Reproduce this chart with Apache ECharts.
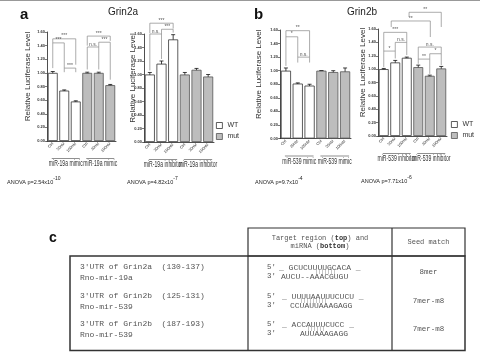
<!DOCTYPE html>
<html>
<head>
<meta charset="utf-8">
<script src="https://cdn.jsdelivr.net/npm/echarts@6/dist/echarts.min.js"></script>
<style>
html,body{margin:0;padding:0;background:#fff}
#main{width:480px;height:352px}
</style>
</head>
<body>
<div id="main"></div>
<script>
// categories on every small chart
var doseLabels = ['Ctrl', '20nM', '100nM', 'Ctrl', '20nM', '100nM'];
var yTicks = [0, 0.2, 0.4, 0.6, 0.8, 1.0, 1.2, 1.4, 1.6];

// a: Grin2a (WT = first three, mut = last three)
var a1Values = [1.00, 0.74, 0.58, 1.00, 1.00, 0.82];
var a1Errors = [0.02, 0.01, 0.01, 0.01, 0.01, 0.01];
var a2Values = [1.00, 1.16, 1.52, 1.00, 1.07, 0.97];
var a2Errors = [0.03, 0.04, 0.07, 0.03, 0.02, 0.03];
// b: Grin2b
var b1Values = [1.00, 0.81, 0.78, 1.00, 0.98, 0.99];
var b1Errors = [0.04, 0.01, 0.02, 0.00, 0.02, 0.05];
var b2Values = [1.00, 1.10, 1.17, 1.03, 0.90, 1.01];
var b2Errors = [0.01, 0.03, 0.01, 0.03, 0.01, 0.03];

// brackets: [from bar, to bar, level, left end, right end]
var a1Brackets = [[0,2,1.50,1.44,1.12],[0,1,1.44,1.07,1.07],[1,2,1.07,1.01,1.01],
                  [3,5,1.54,1.40,1.47],[3,4,1.38,1.05,1.05],[4,5,1.45,1.38,0.90]];
var a1Marks = ['***','***','***','***','n.s.','***'];
var a2Brackets = [[0,2,1.76,1.61,1.68],[0,1,1.60,1.06,1.23],[1,2,1.67,1.60,1.62]];
var a2Marks = ['***','n.s.','***'];
var b1Brackets = [[0,2,1.59,1.50,1.20],[0,1,1.50,1.07,1.20],[1,2,1.20,1.12,1.12]];
var b1Marks = ['**','*','n.s.'];
var b2Brackets = [[0,1,1.27,1.03,1.16],[1,2,1.40,1.27,1.21],[0,2,1.55,1.27,1.40],
                  [3,4,1.15,1.08,0.93],[4,5,1.23,1.15,1.06],[3,5,1.33,1.15,1.23],
                  [0.65,4.05,1.72,1.63,1.48],[2.2,5.0,1.85,1.78,1.63]];
var b2Marks = ['*','n.s.','***','**','*','n.s.','**','**'];

var a1Groups = ['miR-19a mimic', 'miR-19a mimic'];
var a2Groups = ['miR-19a inhibitor', 'miR-19a inhibitor'];
var b1Groups = ['miR-539 mimic', 'miR-539 mimic'];
var b2Groups = ['miR-539 inhibitor', 'miR-539 inhibitor'];

var anovaTexts = [['ANOVA p=2.54x10', '-10'], ['ANOVA p=4.82x10', '-7'],
                  ['ANOVA p=9.7x10', '-4'], ['ANOVA p=7.71x10', '-6']];

// c: table
var tableHeader = ['Target region (top) and', 'miRNA (bottom)', 'Seed match'];
var tableUtr = ["3'UTR of Grin2a  (130-137)", "3'UTR of Grin2b  (125-131)", "3'UTR of Grin2b  (187-193)"];
var tableMir = ['Rno-mir-19a', 'Rno-mir-539', 'Rno-mir-539'];
var tableTarget = ['_ GCUCUUUUGCACA _', '_ UUUUAAUUUCUCU _', '_ ACCAUUUCUCC _'];
var tableMirna = ['AUCU--AAACGUGU', 'CCUAUUAAAGAGG', 'AUUAAAGAGG'];
var tablePairs = ['|||||||', '|||||||||', '||||||'];
var tableSeed = ['8mer', '7mer-m8', '7mer-m8'];

var chart = echarts.init(document.getElementById('main'), null, {renderer: 'canvas'});

var panels = [
  {values: a1Values, errors: a1Errors, brackets: a1Brackets, marks: a1Marks, groups: a1Groups,
   grid: {left: 47, top: 32, width: 69, height: 109}, nameGap: 15},
  {values: a2Values, errors: a2Errors, brackets: a2Brackets, marks: a2Marks, groups: a2Groups,
   grid: {left: 144, top: 34, width: 70, height: 108}, nameGap: 7.5},
  {values: b1Values, errors: b1Errors, brackets: b1Brackets, marks: b1Marks, groups: b1Groups,
   grid: {left: 280, top: 30, width: 71, height: 108.5}, nameGap: 17},
  {values: b2Values, errors: b2Errors, brackets: b2Brackets, marks: b2Marks, groups: b2Groups,
   grid: {left: 378, top: 29, width: 69, height: 107}, nameGap: 11}
];

var ink = '#333';
var soft = '#555';
var monoFont = "'Liberation Mono', 'DejaVu Sans Mono', monospace";
var narrowFont = "Arial, 'Liberation Sans', sans-serif";

function errorItem(params, api) {
  var i = api.value(0), v = api.value(1), e = api.value(2);
  var hi = api.coord([i, v + e]);
  var lo = api.coord([i, v - e]);
  var st = {stroke: '#111', lineWidth: 0.8};
  return {type: 'group', children: [
    {type: 'line', shape: {x1: hi[0], y1: hi[1], x2: lo[0], y2: lo[1]}, style: st},
    {type: 'line', shape: {x1: hi[0] - 2, y1: hi[1], x2: hi[0] + 2, y2: hi[1]}, style: st},
    {type: 'line', shape: {x1: lo[0] - 2, y1: lo[1], x2: lo[0] + 2, y2: lo[1]}, style: st}
  ]};
}

function bracketItem(marks) {
  return function (params, api) {
    var f1 = api.value(0), f2 = api.value(1);
    var p0 = api.coord([0, api.value(2)]);
    var p1 = api.coord([1, api.value(2)]);
    var step = p1[0] - p0[0];
    var x1 = p0[0] + f1 * step, x2 = p0[0] + f2 * step;
    var y = p0[1];
    var yl = api.coord([0, api.value(3)])[1];
    var yr = api.coord([0, api.value(4)])[1];
    return {type: 'group', children: [
      {type: 'polyline', shape: {points: [[x1, yl], [x1, y], [x2, y], [x2, yr]]},
       style: {stroke: '#888', lineWidth: 0.7, fill: null}},
      {type: 'text', x: (x1 + x2) / 2, y: y - 0.3,
       style: {text: marks[params.dataIndex], fontSize: 5, fill: soft,
               align: 'center', verticalAlign: 'bottom'}}
    ]};
  };
}

function groupItem(names) {
  return function (params, api) {
    var s = api.coord([api.value(0), 0]);
    var e = api.coord([api.value(1), 0]);
    var cx = (s[0] + e[0]) / 2 + 1.5;
    var y0 = s[1];
    return {type: 'group', children: [
      {type: 'line', shape: {x1: s[0] - 1, y1: y0 + 17.5, x2: e[0] + 4, y2: y0 + 17.5},
       style: {stroke: '#444', lineWidth: 0.6}},
      {type: 'text', x: cx, y: y0 + 18.5, scaleX: 0.6,
       style: {text: names[params.dataIndex], fontSize: 8.5, fontFamily: narrowFont,
               fill: ink, align: 'center', verticalAlign: 'top'}}
    ]};
  };
}

var grids = [], xAxes = [], yAxes = [], series = [];
panels.forEach(function (p, k) {
  grids.push(p.grid);
  xAxes.push({
    type: 'category', gridIndex: k, data: doseLabels,
    axisLine: {lineStyle: {color: '#222', width: 0.8}},
    axisTick: {show: false},
    axisLabel: {rotate: 45, interval: 0, fontSize: 4, margin: 2, color: ink}
  });
  yAxes.push({
    type: 'value', gridIndex: k, min: yTicks[0], max: yTicks[yTicks.length - 1], interval: 0.2,
    name: 'Relative Luciferase Level', nameLocation: 'middle', nameGap: p.nameGap,
    nameMoveOverlap: false,
    nameTextStyle: {fontSize: 8, color: ink, padding: [0, 0, 0, 20]},
    axisLine: {show: true, lineStyle: {color: '#222', width: 0.8}},
    axisTick: {show: true, length: 2, lineStyle: {color: '#222', width: 0.6}},
    splitLine: {show: false},
    axisLabel: {fontSize: 4, fontWeight: 'bold', color: ink, margin: 2,
                formatter: function (v) { return v.toFixed(2); }}
  });
  series.push({
    name: 'WT', type: 'bar', xAxisIndex: k, yAxisIndex: k, silent: true,
    barGap: '-100%', barCategoryGap: '14%',
    itemStyle: {color: '#ffffff', borderColor: '#333', borderWidth: 0.8},
    data: p.values.map(function (v, i) { return i < 3 ? v : '-'; })
  });
  series.push({
    name: 'mut', type: 'bar', xAxisIndex: k, yAxisIndex: k, silent: true,
    barGap: '-100%', barCategoryGap: '14%',
    itemStyle: {color: '#bdbdbd', borderColor: '#555', borderWidth: 0.8},
    data: p.values.map(function (v, i) { return i >= 3 ? v : '-'; })
  });
  series.push({
    type: 'custom', xAxisIndex: k, yAxisIndex: k, silent: true, clip: false,
    renderItem: errorItem, encode: {x: 0, y: 1},
    data: p.values.map(function (v, i) { return [i, v, p.errors[i]]; })
  });
  series.push({
    type: 'custom', xAxisIndex: k, yAxisIndex: k, silent: true, clip: false,
    renderItem: bracketItem(p.marks), encode: {x: 0, y: 2},
    data: p.brackets
  });
  series.push({
    type: 'custom', xAxisIndex: k, yAxisIndex: k, silent: true, clip: false,
    renderItem: groupItem(p.groups), encode: {x: 0, y: 2},
    data: [[0, 2, 0], [3, 5, 0]]
  });
});

// free text: panel letters, titles, ANOVA lines, table
var graphics = [
  {type: 'line', shape: {x1: 0, y1: 0.5, x2: 480, y2: 0.5}, style: {stroke: '#999', lineWidth: 1}},
  {type: 'text', x: 20, y: 14.5, style: {text: 'a', fontSize: 15, fontWeight: 'bold', fill: '#111', verticalAlign: 'middle'}},
  {type: 'text', x: 254, y: 14.5, style: {text: 'b', fontSize: 15, fontWeight: 'bold', fill: '#111', verticalAlign: 'middle'}},
  {type: 'text', x: 49, y: 238, style: {text: 'c', fontSize: 14, fontWeight: 'bold', fill: '#111', verticalAlign: 'middle'}},
  {type: 'text', x: 108, y: 12.5, style: {text: 'Grin2a', fontSize: 10, fill: '#222', verticalAlign: 'middle'}},
  {type: 'text', x: 347, y: 12.5, style: {text: 'Grin2b', fontSize: 10, fill: '#222', verticalAlign: 'middle'}}
];
var anovaPos = [[7, 181], [127, 181], [255, 181], [361, 180]];
anovaTexts.forEach(function (t, i) {
  graphics.push({type: 'text', x: anovaPos[i][0], y: anovaPos[i][1],
    style: {text: '{n|' + t[0] + '}{s|' + t[1] + '}', verticalAlign: 'middle',
      rich: {n: {fontSize: 5.5, fill: '#222', verticalAlign: 'bottom', lineHeight: 9},
             s: {fontSize: 5, fill: '#222', verticalAlign: 'top', lineHeight: 9}}}});
});

// table frame
var tL = 70, tC1 = 248, tC2 = 392, tR = 465, tTop = 228, tHead = 256, tBot = 350.5;
var frame = {stroke: '#333', lineWidth: 1.2, fill: null};
graphics.push({type: 'rect', shape: {x: tC1, y: tTop, width: tR - tC1, height: tHead - tTop}, style: frame});
graphics.push({type: 'rect', shape: {x: tL, y: tHead, width: tR - tL, height: tBot - tHead}, style: {stroke: '#333', lineWidth: 1.5, fill: null}});
graphics.push({type: 'line', shape: {x1: tC2, y1: tTop, x2: tC2, y2: tBot}, style: frame});
graphics.push({type: 'line', shape: {x1: tC1, y1: tHead, x2: tC1, y2: tBot}, style: frame});
graphics.push({type: 'text', x: (tC1 + tC2) / 2, y: 238,
  style: {text: 'Target region ({b|top}) and', fontSize: 7, fontFamily: monoFont, fill: soft,
          align: 'center', verticalAlign: 'middle',
          rich: {b: {fontSize: 7, fontFamily: monoFont, fontWeight: 'bold', fill: '#333'}}}});
graphics.push({type: 'text', x: (tC1 + tC2) / 2, y: 246.5,
  style: {text: 'miRNA ({b|bottom})', fontSize: 7, fontFamily: monoFont, fill: soft,
          align: 'center', verticalAlign: 'middle',
          rich: {b: {fontSize: 7, fontFamily: monoFont, fontWeight: 'bold', fill: '#333'}}}});
graphics.push({type: 'text', x: (tC2 + tR) / 2, y: 242,
  style: {text: tableHeader[2], fontSize: 7, fontFamily: monoFont, fill: soft, align: 'center', verticalAlign: 'middle'}});

var rowMid = [272, 301, 329];
var targetX = [279, 282, 282];
var mirnaX = [281, 290, 300];
var pairX = [315, 300, 307];
rowMid.forEach(function (m, i) {
  var ts = {fontFamily: monoFont, fill: soft, verticalAlign: 'middle'};
  function txt(x, y, s, size, extra) {
    var st = Object.assign({}, ts, {text: s, fontSize: size}, extra || {});
    graphics.push({type: 'text', x: x, y: y, style: st});
  }
  txt(80, m - 5.5, tableUtr[i], 8);
  txt(80, m + 5.5, tableMir[i], 8);
  txt(267, m - 4.5, "5'", 7.5);
  txt(267, m + 4.5, "3'", 7.5);
  txt(targetX[i], m - 4.5, tableTarget[i], 8);
  txt(mirnaX[i], m + 4.5, tableMirna[i], 8);
  txt(pairX[i], m, tablePairs[i], 5, {fill: '#777'});
  txt((tC2 + tR) / 2, m, tableSeed[i], 7.5, {align: 'center'});
});

var legendItems = [
  {name: 'WT', itemStyle: {color: '#ffffff', borderColor: '#333', borderWidth: 0.8}},
  {name: 'mut', itemStyle: {color: '#bdbdbd', borderColor: '#555', borderWidth: 0.8}}
];

var option = {
  animation: false,
  backgroundColor: '#ffffff',
  textStyle: {fontFamily: "Arial, 'Liberation Sans', sans-serif"},
  legend: [
    {left: 216, top: 122, orient: 'vertical', itemWidth: 6, itemHeight: 6, itemGap: 4, padding: 0,
     icon: 'rect', data: legendItems, textStyle: {fontSize: 7, color: ink}, selectedMode: false},
    {left: 451, top: 121, orient: 'vertical', itemWidth: 6, itemHeight: 6, itemGap: 4, padding: 0,
     icon: 'rect', data: legendItems, textStyle: {fontSize: 7, color: ink}, selectedMode: false}
  ],
  grid: grids,
  xAxis: xAxes,
  yAxis: yAxes,
  series: series,
  graphic: graphics
};

chart.setOption(option);
</script>
</body>
</html>
